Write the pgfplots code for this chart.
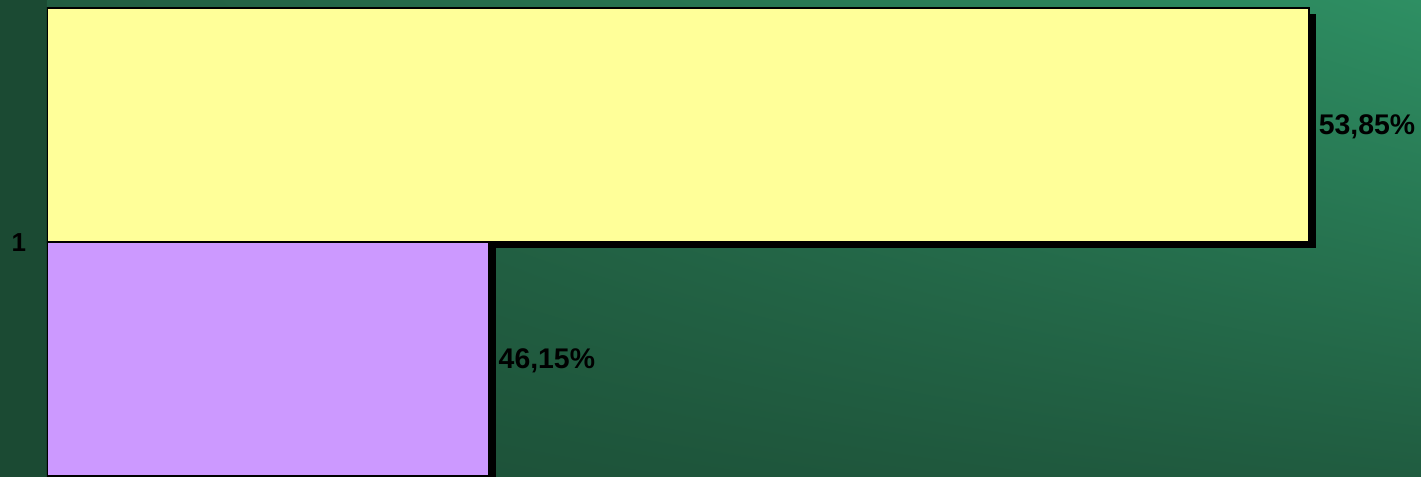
\documentclass[border=0pt]{standalone}
\usepackage{pgfplots}
\pgfplotsset{compat=1.18}
\usetikzlibrary{shadings}
\usepackage{fontspec}
\setmainfont{Liberation Sans}

\definecolor{bgdark}{HTML}{1B4A33}
\definecolor{bgUL}{HTML}{225C40}
\definecolor{bgUR}{HTML}{2E8F63}
\definecolor{bgLL}{HTML}{1C4E36}
\definecolor{bgLR}{HTML}{205C40}
\definecolor{barYellow}{HTML}{FFFF99}
\definecolor{barPurple}{HTML}{CC99FF}

\begin{document}
\begin{tikzpicture}
% background strip left of the plot area (1px = 0.5pt)
\fill[bgdark] (0,0) rectangle (710.5pt,238.5pt);
\begin{axis}[
    at={(23.5pt,0pt)}, anchor=south west,
    width=687pt, height=238.5pt, scale only axis,
    xbar, bar width=0.4906,
    xmin=42, xmax=54.9,
    ymin=0.5073, ymax=1.5073,
    axis line style={draw=none},
    xtick=\empty, ytick={1},
    tick style={draw=none},
    /pgf/number format/assume math mode=true,
    yticklabel style={font=\fontsize{13}{13}\selectfont\bfseries, inner sep=0pt, xshift=-6pt, yshift=-0.5pt},
    axis background/.style={shade,
        upper left=bgUL, upper right=bgUR,
        lower left=bgLL, lower right=bgLR},
    nodes near coords={\pgfmathprintnumber[fixed,fixed zerofill,precision=2,use comma,assume math mode=true]{\pgfplotspointmeta}\%},
    point meta=x,
    every node near coord/.append style={font=\fontsize{14.2}{14.2}\selectfont\bfseries, text=black, anchor=west, inner sep=0pt, xshift=4.5pt, yshift=-1pt},
]
% drop shadows
\addplot[fill=black, draw=none, bar shift=0.2453, xshift=3.5pt, yshift=-3pt, nodes near coords={}] coordinates {(53.85,1)};
\addplot[fill=black, draw=none, bar shift=-0.2453, xshift=3.5pt, yshift=-3pt, nodes near coords={}] coordinates {(46.15,1)};
% bars
\addplot[fill=barYellow, draw=black, line width=0.7pt, bar shift=0.2453] coordinates {(53.85,1)};
\addplot[fill=barPurple, draw=black, line width=0.7pt, bar shift=-0.2453] coordinates {(46.15,1)};
\end{axis}
\pgfresetboundingbox
\path (0,0) rectangle (710.5pt,238.5pt);
\end{tikzpicture}
\end{document}
